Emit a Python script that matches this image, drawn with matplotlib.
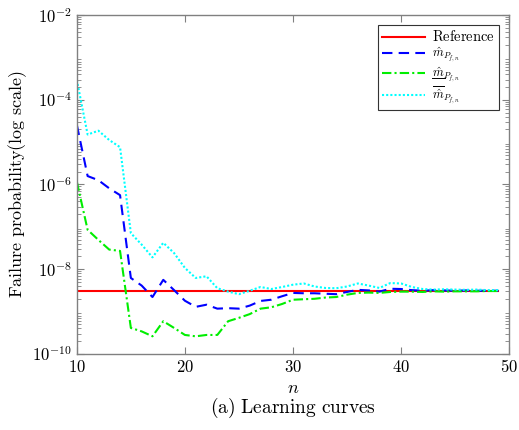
import numpy as np
import matplotlib
matplotlib.use("Agg")
import matplotlib.pyplot as plt
from matplotlib.lines import Line2D
from matplotlib.ticker import FixedLocator, LogLocator, NullFormatter, FuncFormatter

plt.rcParams['mathtext.fontset'] = 'cm'
plt.rcParams['font.family'] = 'serif'
plt.rcParams['font.serif'] = ['DejaVu Serif']

n = list(range(10, 50))
reference = 3.1e-9
m_hat = [2.57e-5, 1.58e-6, 1.26e-6, 8.1e-7, 5.6e-7, 6.2e-9, 4.1e-9, 2.2e-9, 5.6e-9, 3.2e-9,
         1.8e-9, 1.29e-9, 1.45e-9, 1.17e-9, 1.2e-9, 1.17e-9, 1.38e-9, 1.78e-9, 1.9e-9, 2.3e-9,
         2.75e-9, 2.7e-9, 2.7e-9, 2.63e-9, 2.57e-9, 2.9e-9, 3.25e-9, 3.15e-9, 2.95e-9, 3.45e-9,
         3.4e-9, 3.2e-9, 3.1e-9, 3.2e-9, 3.15e-9, 3.1e-9, 3.15e-9, 3.1e-9, 3.1e-9, 3.1e-9]
m_low = [1.17e-6, 8.5e-8, 4.9e-8, 2.9e-8, 2.7e-8, 4.1e-10, 3.4e-10, 2.6e-10, 5.9e-10, 4.1e-10,
         2.8e-10, 2.6e-10, 2.8e-10, 2.8e-10, 5.9e-10, 7.1e-10, 8.7e-10, 1.17e-9, 1.26e-9, 1.51e-9,
         1.9e-9, 1.95e-9, 2.0e-9, 2.14e-9, 2.2e-9, 2.5e-9, 2.75e-9, 2.8e-9, 2.75e-9, 2.9e-9,
         2.95e-9, 2.95e-9, 2.9e-9, 3.0e-9, 2.95e-9, 3.0e-9, 3.0e-9, 3.0e-9, 3.05e-9, 3.05e-9]
m_up = [2.95e-4, 1.51e-5, 1.86e-5, 1.12e-5, 7.6e-6, 7.1e-8, 3.8e-8, 1.9e-8, 4.2e-8, 2.4e-8,
        1.07e-8, 6.2e-9, 6.8e-9, 3.55e-9, 2.95e-9, 2.57e-9, 3.1e-9, 3.8e-9, 3.4e-9, 3.8e-9,
        4.3e-9, 4.6e-9, 3.9e-9, 3.6e-9, 3.55e-9, 3.9e-9, 4.6e-9, 4.1e-9, 3.6e-9, 4.7e-9,
        4.6e-9, 3.8e-9, 3.4e-9, 3.3e-9, 3.35e-9, 3.3e-9, 3.25e-9, 3.3e-9, 3.2e-9, 3.2e-9]

xticks = [10, 20, 30, 40, 50]
yticks = [1e-10, 1e-8, 1e-6, 1e-4, 1e-2]

fig = plt.figure(figsize=(5.19, 4.30), dpi=100)
ax = fig.add_axes([0.148, 0.177, 0.833, 0.788])

ax.plot([n[0], n[-1]], [reference, reference], color='red', lw=1.5, label=r'$\mathrm{Reference}$')
ax.plot(n, m_hat, color='blue', lw=1.5, ls=(0, (5, 3)), label=r'$\hat{m}_{P_{f,n}}$')
ax.plot(n, m_low, color='#00ee00', lw=1.5, ls=(0, (4.5, 1.5, 1, 1.5)), label=r'$\hat{m}_{P_{f,n}}$')
ax.plot(n, m_up, color='cyan', lw=1.5, ls=(0, (1, 1)), label=r'$\overline{\hat{m}}_{P_{f,n}}$')

ax.set_yscale('log')
ax.set_xlim(10, 50)
ax.set_ylim(1e-10, 1e-2)
ax.xaxis.set_major_locator(FixedLocator(xticks))
ax.yaxis.set_major_locator(FixedLocator(yticks))
ax.yaxis.set_minor_locator(LogLocator(base=10, subs=np.arange(2, 10), numticks=100))
ax.yaxis.set_minor_formatter(NullFormatter())
ax.xaxis.set_major_formatter(FuncFormatter(lambda v, p: r'$\mathrm{%d}$' % v))
ax.yaxis.set_major_formatter(FuncFormatter(lambda v, p: r'$\mathrm{10^{%d}}$' % int(round(np.log10(v)))))

spine_c = '#808080'
for s in ax.spines.values():
    s.set_color(spine_c)
    s.set_linewidth(1.0)
ax.tick_params(which='both', direction='in', top=True, right=True, colors=spine_c,
               labelcolor='black', labelsize=12)
ax.tick_params(which='major', length=5)
ax.tick_params(which='minor', length=3)

ax.set_ylabel(r'$\mathrm{Failure\ probability(log\ scale)}$', fontsize=13, labelpad=2)
ax.set_xlabel(r'$n$', fontsize=13, labelpad=2)
fig.text(0.5 * (0.148 + 0.981), 0.04, r'$\mathrm{(a)\ Learning\ curves}$', ha='center', va='baseline', fontsize=14)

leg = ax.legend(loc='upper right', fontsize=8.8, handlelength=3.5, borderaxespad=0.85,
                fancybox=False, framealpha=1, edgecolor='#333333', labelspacing=0.12,
                handletextpad=0.6, borderpad=0.3)
leg.get_frame().set_linewidth(0.8)
leg.get_texts()[0].set_fontsize(10.5)

# underline the m of the lower-bound legend label
fig.canvas.draw()
renderer = fig.canvas.get_renderer()
t = leg.get_texts()[2]
bb = t.get_window_extent(renderer)
prop = t.get_fontproperties()
_, _, d = renderer.get_text_width_height_descent(t.get_text(), prop, ismath=True)
wm, _, _ = renderer.get_text_width_height_descent(r'$\hat{m}$', prop, ismath=True)
ybase = bb.y0 + d - 1.5
W, H = fig.bbox.width, fig.bbox.height
fig.add_artist(Line2D([bb.x0 / W, (bb.x0 + wm) / W], [ybase / H, ybase / H],
                      transform=fig.transFigure, color='black', lw=0.7, zorder=10))

fig.savefig('out.png', dpi=100)
